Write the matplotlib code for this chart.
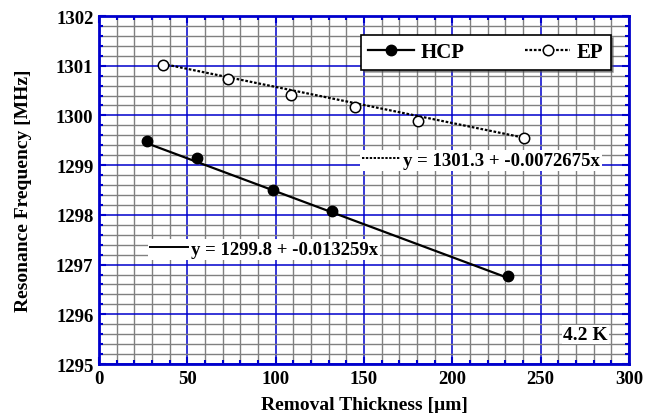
import numpy as np
import matplotlib
matplotlib.use("Agg")
from matplotlib import pyplot as plt
from matplotlib.lines import Line2D
from matplotlib.ticker import MultipleLocator

# data
hcp_x = [27.0, 55.3, 98.6, 131.7, 231.5]
hcp_y = [1299.49, 1299.14, 1298.50, 1298.08, 1296.78]
ep_x = [36.0, 72.8, 108.5, 144.9, 180.7, 240.5]
ep_y = [1301.02, 1300.73, 1300.42, 1300.16, 1299.88, 1299.55]

hcp_fit = (1299.8, -0.013259)
ep_fit = (1301.3, -0.0072675)

plt.rcParams['font.family'] = ['Liberation Serif', 'DejaVu Serif']
plt.rcParams['font.weight'] = 'bold'

blue = '#0000cc'
dots = (0, (1.2, 0.8))

fig = plt.figure(figsize=(6.53, 4.14), dpi=100)
ax = fig.add_axes([99/653, 1-365/414, 530/653, 348/414])

# grid
ax.set_xlim(0, 300)
ax.set_ylim(1295, 1302)
ax.xaxis.set_major_locator(MultipleLocator(50))
ax.xaxis.set_minor_locator(MultipleLocator(10))
ax.yaxis.set_major_locator(MultipleLocator(1))
ax.yaxis.set_minor_locator(MultipleLocator(0.2))
ax.grid(which='minor', color='#808080', lw=1.0, zorder=0)
ax.grid(which='major', color=blue, lw=1.1, zorder=0.5)
ax.set_axisbelow(True)

# fit lines over data ranges
xh = np.array([hcp_x[0], hcp_x[-1]])
ax.plot(xh, hcp_fit[0] + hcp_fit[1]*xh, color='black', lw=1.6, zorder=2)
xe = np.array([ep_x[0], ep_x[-1]])
ax.plot(xe, ep_fit[0] + ep_fit[1]*xe, color='black', lw=1.6, ls=dots, zorder=2)

ax.plot(hcp_x, hcp_y, 'o', color='black', ms=7.5, ls='none', zorder=3)
ax.plot(ep_x, ep_y, 'o', mfc='white', mec='black', mew=1.1, ms=7.5, ls='none', zorder=3)

h1 = Line2D([], [], color='black', lw=1.6, marker='o', ms=7.5)
h2 = Line2D([], [], color='black', lw=1.6, ls=dots, marker='o', ms=7.5,
            mfc='white', mec='black', mew=1.1)

for s in ax.spines.values():
    s.set_color(blue)
    s.set_linewidth(2)
ax.tick_params(which='both', direction='in', top=True, right=True, color=blue,
               labelsize=13.5, pad=4)
ax.tick_params(which='major', length=5, width=1.5)
ax.tick_params(which='minor', length=3, width=1.5)
for lbl in ax.get_xticklabels() + ax.get_yticklabels():
    lbl.set_fontweight('bold')

ax.set_xlabel('Removal Thickness [µm]', fontsize=14, fontweight='bold', labelpad=7)
ax.set_ylabel('Resonance Frequency [MHz]', fontsize=14, fontweight='bold', labelpad=17)

leg = ax.legend(handles=[h1, h2], labels=['HCP', 'EP'], loc='upper right',
                bbox_to_anchor=(0.985, 0.975),
                ncol=2, columnspacing=2.9, handlelength=2.2, handletextpad=0.3,
                frameon=True, fancybox=False, shadow=True, borderpad=0.35,
                prop={'family': 'Liberation Serif', 'weight': 'bold', 'size': 15})
leg.get_frame().set_edgecolor('black')
leg.get_frame().set_linewidth(1.2)
leg.get_frame().set_alpha(1)
ax.add_artist(leg)

# equation labels
eq_ep = Line2D([], [], color='black', lw=1.4, ls=dots)
leg2 = ax.legend(handles=[eq_ep], labels=['y = 1301.3 + -0.0072675x'],
                 loc='center left', bbox_to_anchor=(0.493, 0.585), frameon=True,
                 fancybox=False, handlelength=2.0, handletextpad=0.2, borderpad=0.1,
                 borderaxespad=0,
                 prop={'family': 'Liberation Serif', 'weight': 'bold', 'size': 13.5})
leg2.get_frame().set_edgecolor('none')
leg2.get_frame().set_alpha(1)
ax.add_artist(leg2)

eq_hcp = Line2D([], [], color='black', lw=1.4)
leg3 = ax.legend(handles=[eq_hcp], labels=['y = 1299.8 + -0.013259x'],
                 loc='center left', bbox_to_anchor=(0.093, 0.33), frameon=True,
                 fancybox=False, handlelength=2.0, handletextpad=0.2, borderpad=0.1,
                 borderaxespad=0,
                 prop={'family': 'Liberation Serif', 'weight': 'bold', 'size': 13.5})
leg3.get_frame().set_edgecolor('none')
leg3.get_frame().set_alpha(1)

ax.text(0.96, 0.085, '4.2 K', transform=ax.transAxes, ha='right', va='center',
        fontsize=14, fontweight='bold', zorder=5,
        bbox=dict(facecolor='white', edgecolor='none', pad=1))

fig.savefig('out.png', dpi=100)
